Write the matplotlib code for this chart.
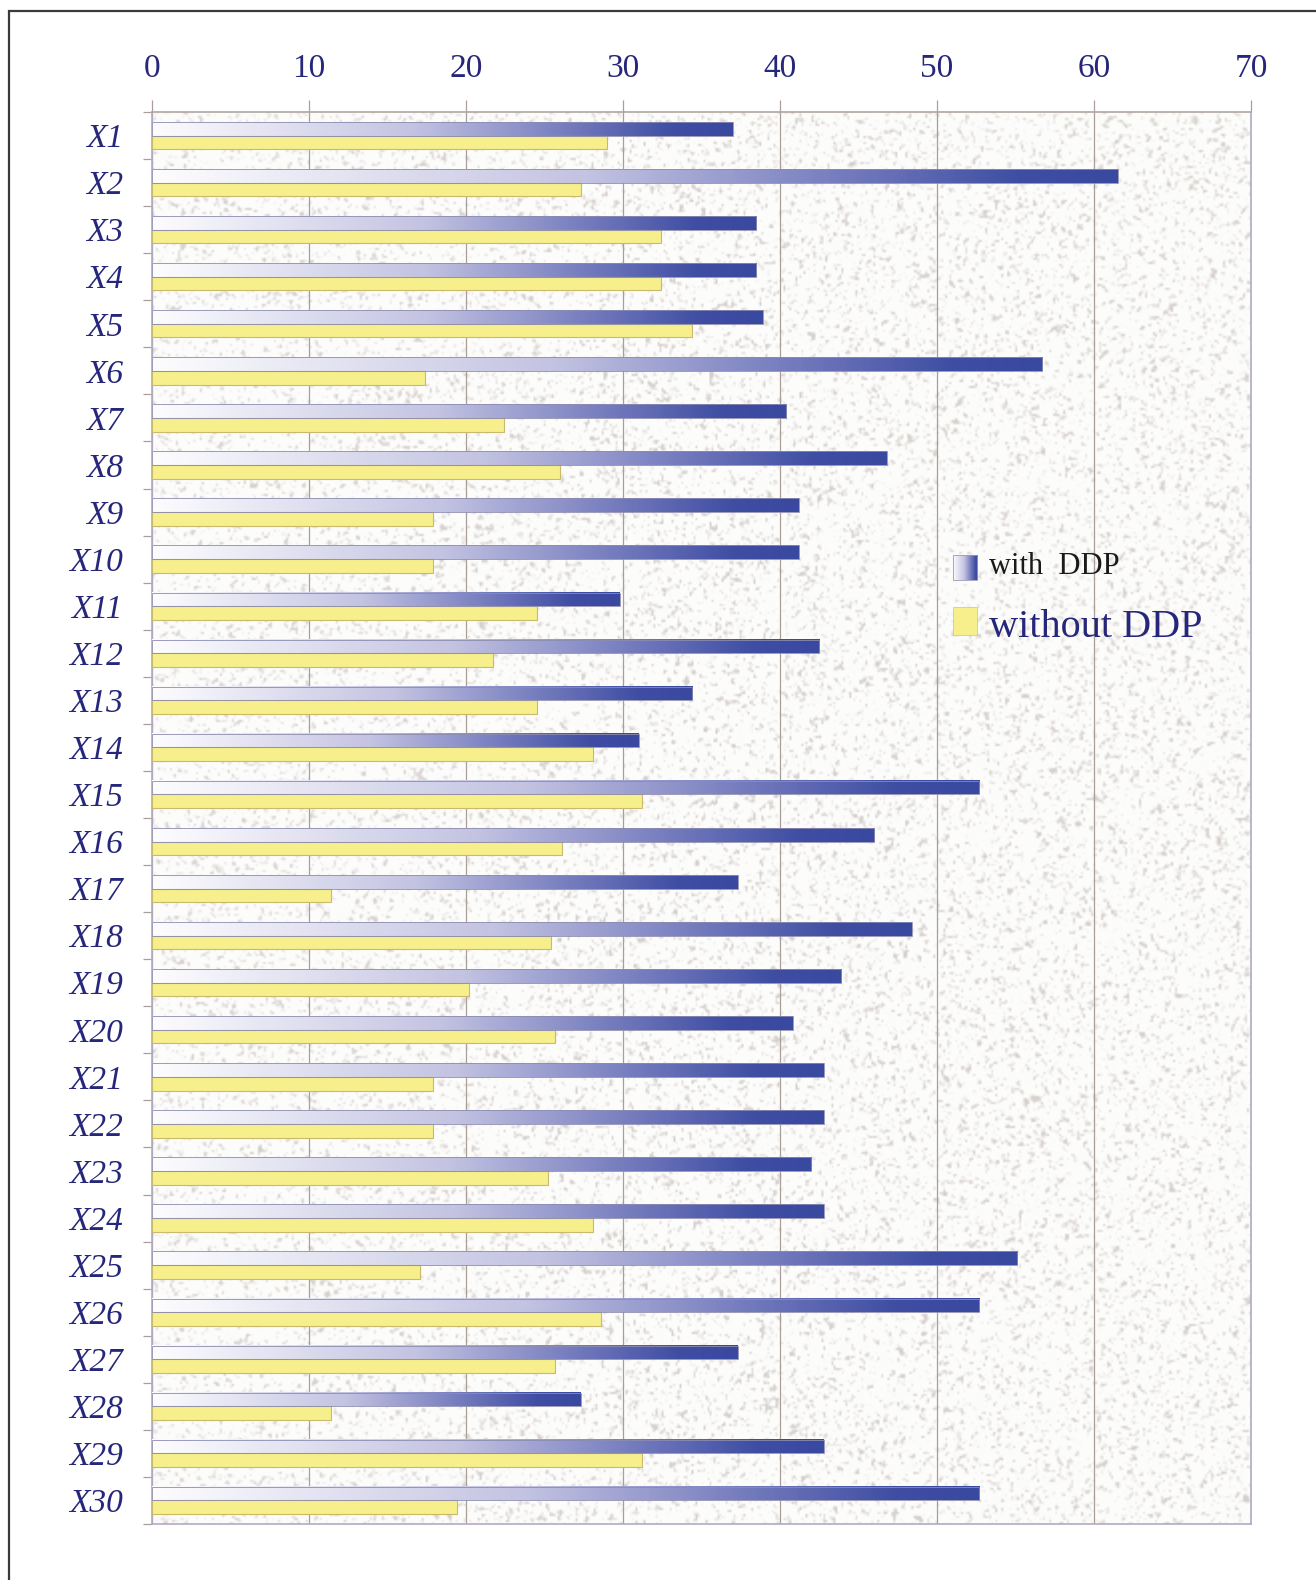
import numpy as np
import matplotlib
matplotlib.use('Agg')
import matplotlib.pyplot as plt
from matplotlib.colors import LinearSegmentedColormap
from matplotlib.patches import Rectangle

# values per sample
labels = [f'X{i}' for i in range(1, 31)]
with_ddp = [37.0, 61.5, 38.5, 38.5, 38.9, 56.7, 40.4, 46.8, 41.2, 41.2,
            29.8, 42.5, 34.4, 31.0, 52.7, 46.0, 37.3, 48.4, 43.9, 40.8,
            42.8, 42.8, 42.0, 42.8, 55.1, 52.7, 37.3, 27.3, 42.8, 52.7]
without_ddp = [29.0, 27.3, 32.4, 32.4, 34.4, 17.4, 22.4, 26.0, 17.9, 17.9,
               24.5, 21.7, 24.5, 28.1, 31.2, 26.1, 11.4, 25.4, 20.2, 25.7,
               17.9, 17.9, 25.2, 28.1, 17.1, 28.6, 25.7, 11.4, 31.2, 19.4]
xticks = [0, 10, 20, 30, 40, 50, 60, 70]

SERIF = ['Liberation Serif', 'DejaVu Serif']
NAVY = '#26267a'

blue_cmap = LinearSegmentedColormap.from_list(
    'ddp', [(0.0, '#fdfdff'), (0.45, '#c3c3e2'), (0.75, '#6b73b9'),
            (0.9, '#3f4ea3'), (1.0, '#3a49a0')])
grad = np.linspace(0, 1, 256).reshape(1, -1)

W, H = 1316, 1580
fig = plt.figure(figsize=(W / 100, H / 100), dpi=100)
fig.patch.set_facecolor('white')

# outer frame
fig.patches.append(Rectangle((9 / W, -0.01), 1.05, 1 - 11 / H + 0.01,
                             transform=fig.transFigure, fill=False,
                             edgecolor='#3a3a3a', linewidth=1.6))

ax = fig.add_axes([152 / W, 1 - 1524 / H, (1251 - 152) / W, (1524 - 112) / H])

n = len(labels)
y = np.arange(n)

# speckled stone background
rng = np.random.default_rng(7)
noise = rng.random((706, 550))
sm = (noise + np.roll(noise, 1, 0) + np.roll(noise, 1, 1)
      + np.roll(np.roll(noise, 1, 0), 1, 1)) / 4
speck = np.clip((sm - 0.6) * 5, 0, 1)[..., None]
base = np.array([0.99, 0.989, 0.987])
dark = np.array([0.79, 0.76, 0.74])
tex = base * (1 - 0.75 * speck) + dark * 0.75 * speck
ax.imshow(tex, extent=(0, 70, n - 0.5, -0.5), aspect='auto', zorder=0,
          interpolation='bilinear')

bh = 0.29
blue = ax.barh(y - 0.145, with_ddp, height=bh, facecolor='none',
               edgecolor='#8c8cb0', linewidth=0.6, zorder=4)
for p in blue.patches:
    x0, y0, w, h = p.get_x(), p.get_y(), p.get_width(), p.get_height()
    ax.imshow(grad, cmap=blue_cmap, extent=(x0, x0 + w, y0 + h, y0),
              aspect='auto', zorder=3, interpolation='bilinear')
ax.barh(y + 0.145, without_ddp, height=bh, color='#f6ef8c',
        edgecolor='#c9b96c', linewidth=0.8, zorder=3)

ax.set_axisbelow(True)
ax.grid(axis='x', color='#a99f98', linewidth=0.9)

ax.xaxis.tick_top()
ax.set_xticks(xticks)
ax.set_xticklabels([str(t) for t in xticks], fontsize=24, family=SERIF,
                   color=NAVY)
ax.tick_params(axis='x', length=9, width=0.9, color='#a99f98', pad=11)

ax.set_yticks(y)
ax.set_yticklabels(labels, fontsize=24, family=SERIF, style='italic',
                   color=NAVY)
ax.set_yticks(np.arange(n + 1) - 0.5, minor=True)
ax.tick_params(axis='y', which='major', length=0, pad=21)
ax.tick_params(axis='y', which='minor', length=6.5, width=0.9,
               color='#a99f98')

for side in ['left', 'right', 'bottom', 'top']:
    ax.spines[side].set_color('#b2aac6')
    ax.spines[side].set_linewidth(1.2)
ax.spines['top'].set_color('#b0a6a0')

# legend
ax.imshow(grad, cmap=blue_cmap, extent=(51.0, 52.55, 9.44, 8.91),
          aspect='auto', zorder=5)
ax.add_patch(Rectangle((51.0, 8.91), 1.55, 0.53, fill=False,
                       edgecolor='#9a9ab8', linewidth=0.6, zorder=6))
ax.add_patch(Rectangle((51.0, 10.02), 1.55, 0.59, facecolor='#f6ef8c',
                       edgecolor='#d8cc88', linewidth=0.6, zorder=6))
ax.text(53.3, 9.15, 'with  DDP', va='center', ha='left', fontsize=22,
        family=SERIF, color='#1a1a1a', zorder=6)
ax.text(53.3, 10.45, 'without DDP', va='center', ha='left', fontsize=29,
        family=SERIF, color=NAVY, zorder=6)

ax.set_xlim(0, 70)
ax.set_ylim(n - 0.5, -0.5)

fig.savefig('out.png', dpi=100)
